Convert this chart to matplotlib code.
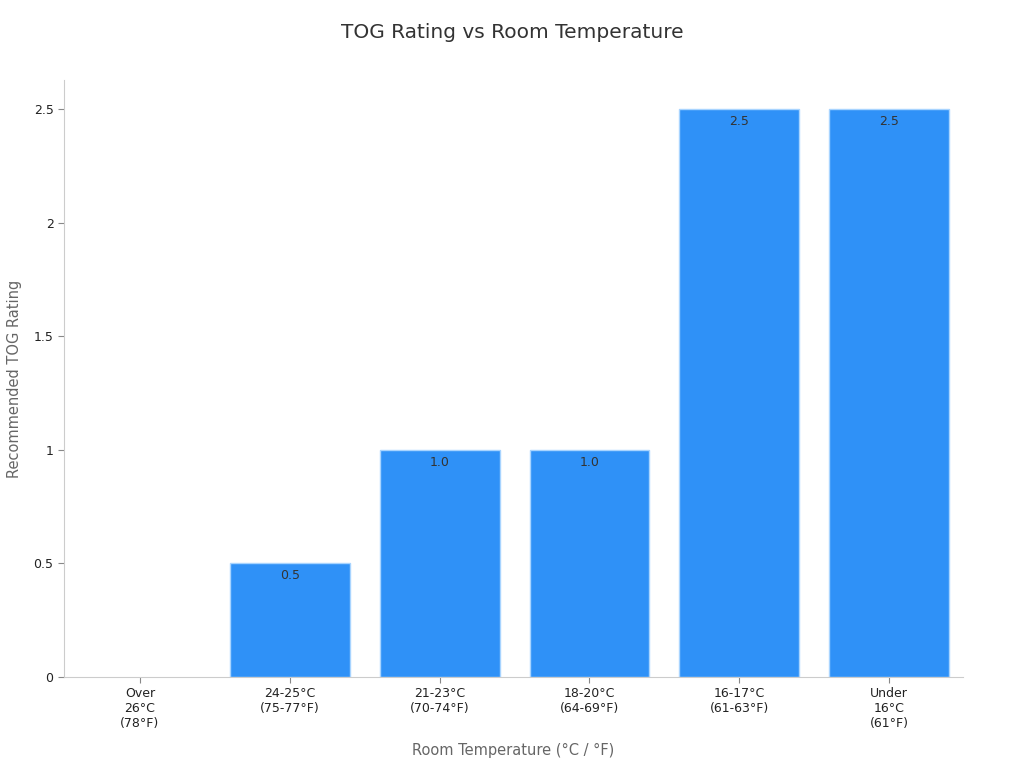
import matplotlib
matplotlib.use("Agg")
import matplotlib.pyplot as plt
import numpy as np

# data
categories = ["Over\n26°C\n(78°F)", "24-25°C\n(75-77°F)", "21-23°C\n(70-74°F)",
              "18-20°C\n(64-69°F)", "16-17°C\n(61-63°F)", "Under\n16°C\n(61°F)"]
tog = [0, 0.5, 1.0, 1.0, 2.5, 2.5]
yticks = [0, 0.5, 1, 1.5, 2, 2.5]
ytick_labels = ["0", "0.5", "1", "1.5", "2", "2.5"]

plt.rcParams['font.family'] = ['DejaVu Sans']

fig = plt.figure(figsize=(10.24, 7.68), dpi=100)
ax = fig.add_axes([0.0625, 0.1185, 0.8775, 0.7775])

x = np.arange(len(categories))
# no outline on empty bars
lw = [1 if v > 0 else 0 for v in tog]
bars = ax.bar(x, tog, width=0.8, color="#2f91f7", edgecolor="#a8d4ff", linewidth=lw)

for b, v in zip(bars, tog):
    if v > 0:
        ax.text(b.get_x() + b.get_width() / 2, v - 0.025, f"{v:.1f}",
                ha="center", va="top", fontsize=9, color="#333333")

ax.set_xlim(-0.507, 5.49)
ax.set_ylim(0, 2.63)
ax.set_xticks(x)
ax.set_xticklabels(categories, fontsize=9, color="#222222")
ax.set_yticks(yticks)
ax.set_yticklabels(ytick_labels, fontsize=9, color="#222222")

for s in ["top", "right"]:
    ax.spines[s].set_visible(False)
for s in ["left", "bottom"]:
    ax.spines[s].set_color("#cccccc")
ax.tick_params(colors="#888888", length=4)
ax.tick_params(labelcolor="#222222")

ax.set_xlabel("Room Temperature (°C / °F)", fontsize=10.5, color="#666666", labelpad=9)
ax.set_ylabel("Recommended TOG Rating", fontsize=10.5, color="#666666", labelpad=8)
fig.suptitle("TOG Rating vs Room Temperature", fontsize=14.5, color="#333333", y=0.97)

fig.savefig("out.png", dpi=100)
